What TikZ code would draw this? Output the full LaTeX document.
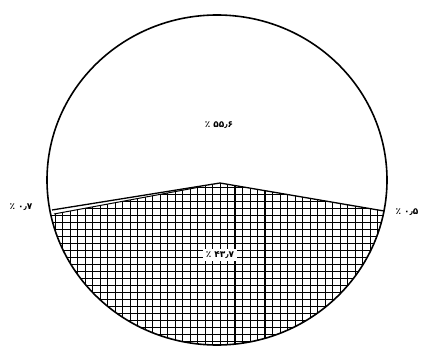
\documentclass[tikz,border=0pt]{standalone}
\usepackage{fontspec}
\TeXXeTstate=1
\newfontfamily\pf{DejaVu Sans}
\begin{document}
\begin{tikzpicture}[x=1pt,y=-1pt,
  lbl/.style={font=\pf\bfseries\fontsize{9}{10}\selectfont, inner sep=1pt},
  rim/.style={line width=1.6pt},
  grd/.style={line width=0.9pt}]
\useasboundingbox (0,0) rectangle (429,361);
\coordinate (C) at (217,180);
\coordinate (L) at (52,210);
\coordinate (P) at (220,183);
\coordinate (R) at (384,211);
\coordinate (L2) at (54,214);
\coordinate (M) at (200,187);
% hatched lower segment
\begin{scope}
  \clip (L) -- (P) -- (R) -- ++(40,0) -- (424,361) -- (0,361) -- (0,214) -- cycle;
  \clip (C) ellipse [x radius=170, y radius=165];
  \foreach \x in {40,47.5,...,400} \draw[grd] (\x,150) -- (\x,361);
  \foreach \y in {180,187,...,361} \draw[grd] (0,\y) -- (429,\y);
  \foreach \x in {122.5,182.5,235,265} \draw[line width=1.6pt] (\x,150) -- (\x,361);
  % thin white slice
  \fill[white] (L) -- (P) -- (M) -- (L2) -- cycle;
\end{scope}
\draw[rim] (C) ellipse [x radius=170, y radius=165];
\draw[line width=1.3pt] (L) -- (P) -- (R);
\draw[line width=1pt] (L2) -- (M);
\node[lbl] (top) at (219,125) {\beginR\beginL۵۵٫۶\endL{} ٪\endR};
\node[lbl, fill=white, inner sep=3pt] (bot) at (220,255) {\beginR\beginL۴۳٫۷\endL{} ٪\endR};
\node[lbl] (lft) at (21,207) {\beginR\beginL۰٫۷\endL{} ٪\endR};
\node[lbl] (rgt) at (407,212) {\beginR\beginL۰٫۵\endL{} ٪\endR};
\end{tikzpicture}
\end{document}
